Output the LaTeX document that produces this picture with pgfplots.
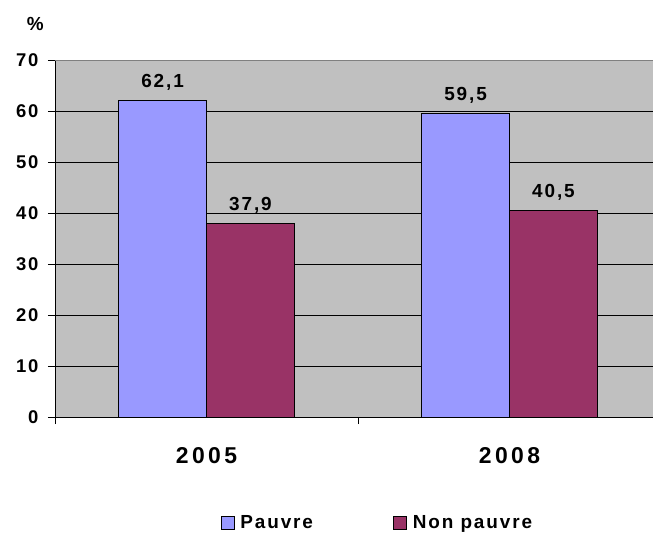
\documentclass[border=0pt]{standalone}
\usepackage{pgfplots}
\pgfplotsset{compat=1.18}
\usepackage{fontspec}
\setmainfont{Liberation Sans}
\newfontfamily\lsp{Liberation Sans}[LetterSpace=10]
\newfontfamily\lspw{Liberation Sans}[LetterSpace=15]
\definecolor{bgray}{RGB}{192,192,192}
\definecolor{pauvre}{RGB}{153,153,255}
\definecolor{nonpauvre}{RGB}{153,51,102}
\begin{document}
\begin{tikzpicture}
\useasboundingbox (-55bp,-118bp) rectangle (598bp,417bp);
\begin{axis}[
  at={(0,0)}, anchor=south west,
  scale only axis, width=598bp, height=357bp,
  xmin=-0.5, xmax=1.4736, ymin=0, ymax=70,
  ybar=0pt, bar width=0.29,
  clip=false,
  axis x line*=bottom, axis y line*=left,
  axis line style={black, line width=0.9bp},
  axis background/.style={fill=bgray},
  /pgf/number format/assume math mode=true,
  ytick={0,10,...,60},
  extra y ticks={70},
  extra y tick style={major grid style={draw=gray, line width=0.9bp}},
  ymajorgrids,
  major grid style={black, line width=0.8bp},
  tick align=outside,
  major tick length=7bp,
  tick style={black, line width=0.8bp},
  yticklabel style={font=\lsp\bfseries\fontsize{18.5}{20}\selectfont, anchor=east, xshift=-6bp},
  xtick={-0.5,0.5},
  xticklabels={},
  extra x ticks={0,1},
  extra x tick labels={2005,2008},
  extra x tick style={major tick length=0pt, xmajorgrids=false, tick label style={font=\lspw\bfseries\fontsize{23}{25}\selectfont, anchor=base, yshift=-46bp}},
  nodes near coords={\pgfmathprintnumber[fixed,fixed zerofill,precision=1,use comma,assume math mode=true]{\pgfplotspointmeta}},
  nodes near coords style={font=\lsp\bfseries\fontsize{19}{20}\selectfont, anchor=base, yshift=13bp, inner sep=0pt},
  legend style={at={(0.539,-0.297)}, anchor=center, draw=none, fill=none,
    legend columns=2, font=\lsp\bfseries\fontsize{19}{20}\selectfont,
    /tikz/every even column/.append style={column sep=78bp},
    /tikz/every odd column/.append style={column sep=4bp}},
  legend cell align=left,
  legend image code/.code={\draw[#1,draw=black,line width=0.8bp] (0bp,-6.5bp) rectangle (13bp,6.5bp);},
]
\addplot[fill=pauvre, draw=black, line width=0.8bp] coordinates {(0,62.1) (1,59.5)};
\addplot[fill=nonpauvre, draw=black, line width=0.8bp] coordinates {(0,37.9) (1,40.5)};
\legend{Pauvre, Non pauvre}
\node[font=\lsp\bfseries\fontsize{19}{20}\selectfont] at (rel axis cs:-0.033,1.1) {\%};
\end{axis}
\end{tikzpicture}
\end{document}
